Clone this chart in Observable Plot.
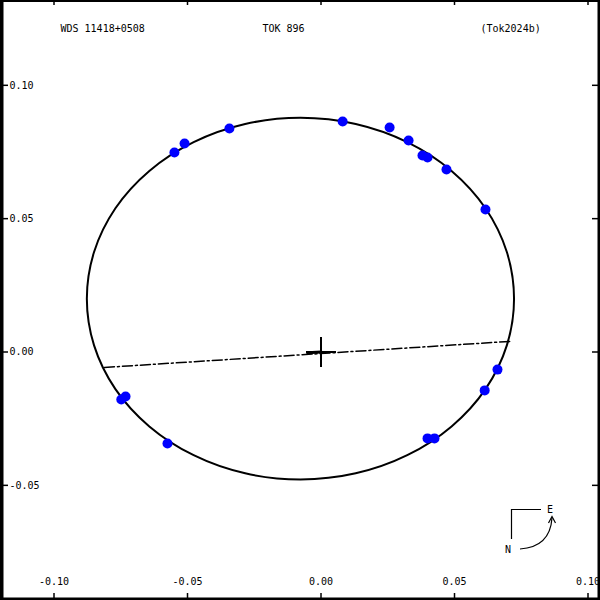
<!DOCTYPE html>
<html>
<head>
<meta charset="utf-8">
<script src="https://cdn.jsdelivr.net/npm/d3@7"></script>
<script src="https://cdn.jsdelivr.net/npm/@observablehq/plot@0.6"></script>
<style>
  body { margin: 0; background: #fff; }
  #chart svg { display: block; }
</style>
</head>
<body>
<div id="chart"></div>
<script>
// ---- data ----
const titleLeft = "WDS 11418+0508";
const titleMid = "TOK 896";
const titleRight = "(Tok2024b)";

const xTicks = [-0.10, -0.05, 0.00, 0.05, 0.10];
const yTicks = [-0.05, 0.00, 0.05, 0.10];

// observed positions (x, y) in arcsec
const obsX = [-0.0549, -0.0511, -0.0343, 0.0081, 0.0257, 0.0328, 0.0380, 0.0399, 0.0470, 0.0616, 0.0661, 0.0613, 0.0399, 0.0425, -0.0575, -0.0748, -0.0732];
const obsY = [0.0748, 0.0782, 0.0838, 0.0864, 0.0842, 0.0793, 0.0737, 0.0729, 0.0684, 0.0534, -0.0066, -0.0144, -0.0324, -0.0324, -0.0343, -0.0178, -0.0167];

// apparent orbit, points
const orbitX = [0.0723, 0.0696, 0.0616, 0.0489, 0.0323, 0.0130, -0.0077, -0.0284, -0.0477, -0.0643, -0.0770, -0.0850, -0.0877, -0.0850, -0.0770, -0.0643, -0.0477, -0.0284, -0.0077, 0.0130, 0.0323, 0.0489, 0.0616, 0.0696];
const orbitY = [0.0200, 0.0375, 0.0539, 0.0679, 0.0787, 0.0855, 0.0878, 0.0855, 0.0787, 0.0679, 0.0539, 0.0375, 0.0200, 0.0025, -0.0139, -0.0279, -0.0387, -0.0455, -0.0478, -0.0455, -0.0387, -0.0279, -0.0139, 0.0025];

// line of nodes
const nodeX = [-0.0811, 0.0710];
const nodeY = [-0.0058, 0.0040];

// primary star and short periastron stub
const primary = [[0, 0]];
const stubX = [-0.0050, 0.0000];
const stubY = [-0.0003, 0.0000];

// domains
const xDomain = [-0.12004, 0.10468];
const yDomain = [-0.09318, 0.13180];

// ---- build tables ----
const obs = obsX.map((x, i) => ({x, y: obsY[i]}));
const orbit = orbitX.map((x, i) => ({x, y: orbitY[i]}));
const nodes = nodeX.map((x, i) => ({x, y: nodeY[i]}));
const stub = stubX.map((x, i) => ({x, y: stubY[i]}));

const crossSymbol = {
  draw(context, size) {
    const s = Math.sqrt(size / Math.PI);
    context.moveTo(-s, 0); context.lineTo(s, 0);
    context.moveTo(0, -s); context.lineTo(0, s);
  }
};

const font = "DejaVu Sans Mono";
const fmt = d => d.toFixed(2);

const plot = Plot.plot({
  width: 600,
  height: 600,
  margin: 0,
  style: {fontFamily: font, fontSize: "10px", background: "#fff", color: "#000"},
  x: {domain: xDomain, axis: null},
  y: {domain: yDomain, axis: null},
  marks: [
    // frame
    Plot.ruleX([xDomain[0]], {stroke: "#000", strokeWidth: 6}),
    Plot.ruleX([xDomain[1]], {stroke: "#000", strokeWidth: 6}),
    Plot.ruleY([yDomain[0]], {stroke: "#000", strokeWidth: 6}),
    Plot.ruleY([yDomain[1]], {stroke: "#000", strokeWidth: 3}),
    // ticks
    Plot.tickX(xTicks, {x: d => d, insetTop: 593, stroke: "#000", strokeWidth: 1.5}),
    Plot.tickX(xTicks, {x: d => d, insetBottom: 595, stroke: "#000", strokeWidth: 1.5}),
    Plot.tickY(yTicks, {y: d => d, insetRight: 592, stroke: "#000", strokeWidth: 1.5}),
    Plot.tickY(yTicks, {y: d => d, insetLeft: 592, stroke: "#000", strokeWidth: 1.5}),
    // tick labels
    Plot.text(xTicks, {x: d => d, text: fmt, frameAnchor: "bottom", dy: -16, fill: "#000"}),
    Plot.text(yTicks, {y: d => d, text: fmt, frameAnchor: "left", dx: 9, textAnchor: "start", fill: "#000"}),
    // titles
    Plot.text([titleLeft], {text: d => d, frameAnchor: "top-left", dx: 60, dy: 24, textAnchor: "start", fill: "#000"}),
    Plot.text([titleMid], {text: d => d, frameAnchor: "top-left", dx: 262, dy: 24, textAnchor: "start", fill: "#000"}),
    Plot.text([titleRight], {text: d => d, frameAnchor: "top-left", dx: 480, dy: 24, textAnchor: "start", fill: "#000"}),
    // line of nodes
    Plot.line(nodes, {x: "x", y: "y", stroke: "#000", strokeWidth: 1.5, strokeDasharray: "10,3,2,3"}),
    // orbit
    Plot.line(orbit, {x: "x", y: "y", curve: "catmull-rom-closed", stroke: "#000", strokeWidth: 2}),
    // periastron stub
    Plot.line(stub, {x: "x", y: "y", stroke: "#000", strokeWidth: 3}),
    // primary
    Plot.dot(primary, {x: d => d[0], y: d => d[1], symbol: crossSymbol, r: 15, stroke: "#000", strokeWidth: 2, fill: "none"}),
    // observations
    Plot.dot(obs, {x: "x", y: "y", r: 5, fill: "#0000ff", stroke: "none"})
  ]
});

// compass decoration
const svg = d3.select(plot);
const g = svg.append("g").attr("fill", "none").attr("stroke", "#000").attr("stroke-width", 1.2);
g.append("path").attr("d", "M541,509.5H511.5V539");
g.append("path").attr("d", "M520,549 Q550,547 552,518");
g.append("path").attr("d", "M548.5,523 L552,516.5 L555.5,523");
const t = svg.append("g").attr("font-family", font).attr("font-size", 10).attr("fill", "#000").attr("text-anchor", "middle");
t.append("text").attr("x", 550).attr("y", 513).text("E");
t.append("text").attr("x", 508).attr("y", 553).text("N");

document.getElementById("chart").appendChild(plot);
</script>
</body>
</html>
